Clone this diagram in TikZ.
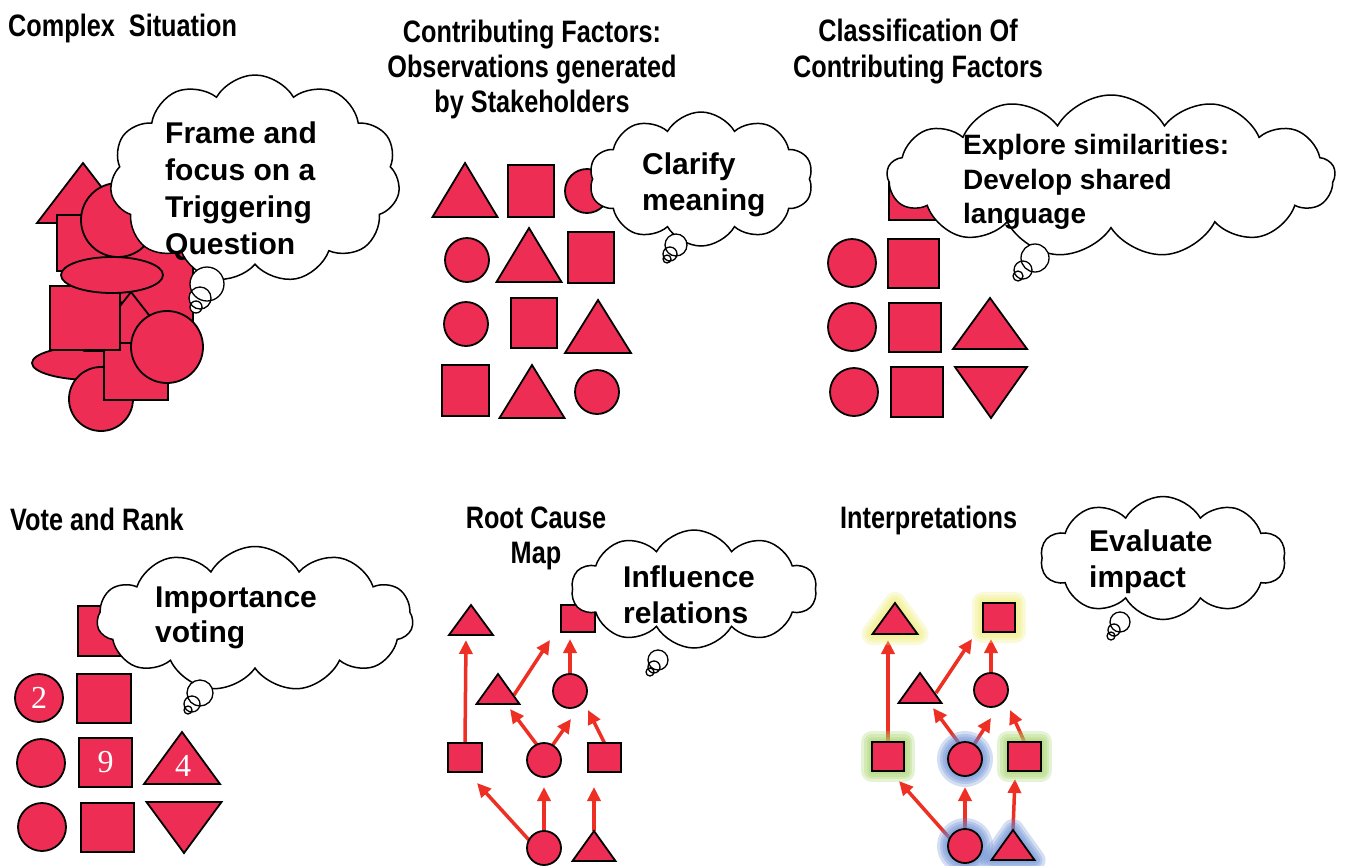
\documentclass[tikz,border=0pt]{standalone}
\usepackage{fontspec}
\setmainfont{Liberation Sans}
\newfontfamily\narrowfont[FakeStretch=0.815]{Liberation Sans}
\newfontfamily\numfont{Liberation Serif}
\usetikzlibrary{shapes.symbols,arrows.meta}
\pgfdeclarelayer{back}
\pgfdeclarelayer{arrows}
\pgfdeclarelayer{glow}
\pgfsetlayers{back,arrows,glow,main}
\definecolor{shp}{RGB}{238,45,85}
\definecolor{arw}{RGB}{238,48,36}
\definecolor{glowY}{RGB}{240,238,120}
\definecolor{glowG}{RGB}{165,212,105}
\definecolor{glowB}{RGB}{100,138,210}
\newcommand\mysq[5]{\node[sqr, minimum width=#4pt-#2pt, minimum height=#5pt-#3pt] (#1) at ({(#2+#4)/2},{(#3+#5)/2}) {};}
\newcommand\mycirc[4]{\node[crc, minimum size=#4pt*2] (#1) at (#2,#3) {};}
\newcommand\mytri[5]{\draw[fig] (#2,#3) -- ({#2+#4},#5) -- ({#2-#4},#5) -- cycle; \coordinate (#1) at (#2,#3);}
\newcommand\thought[9]{\fill[white] (#1,#2) circle (#3) (#4,#5) circle (#6) (#7,#8) circle (#9);
  \draw[bub] (#1,#2) circle (#3) (#4,#5) circle (#6) (#7,#8) circle (#9);}
\newcommand\glowpath[2]{\begin{pgfonlayer}{glow}\foreach \w in {22,16,11,6}{\path[draw=#1, fill=#1, line width=\w pt, line join=round, opacity=0.28] #2;}\end{pgfonlayer}}
\begin{document}
\begin{tikzpicture}[x=1pt,y=-1pt,
  fig/.style={draw=black, fill=shp, line width=1.8pt},
  sqr/.style={fig, rectangle, inner sep=0pt, outer sep=0pt},
  crc/.style={fig, circle, inner sep=0pt, outer sep=0pt},
  ttl/.style={font=\narrowfont\bfseries\fontsize{31}{35}\selectfont, inner sep=0pt},
  ctx/.style={font=\bfseries\fontsize{30}{36}\selectfont, inner sep=0pt, anchor=base west},
  ctxs/.style={font=\bfseries\fontsize{28}{34}\selectfont, inner sep=0pt, anchor=base west},
  cloudbox/.style={cloud, draw=black, fill=white, line width=1.5pt, inner sep=0pt, cloud puff arc=120},
  bub/.style={draw=black, line width=1.3pt},
  arr/.style={draw=arw, line width=3.5pt, -{Triangle[length=14pt,width=13pt]}},
  num/.style={font=\numfont\fontsize{32}{32}\selectfont, text=white, inner sep=0pt}
]
\begin{pgfonlayer}{back}
\fill[white] (0,0) rectangle (1363,865);
\end{pgfonlayer}
\useasboundingbox (0,0) rectangle (1363,865);

% ---------- titles
\node[ttl, anchor=base west] (t1) at (8,36) {Complex\ \ Situation};
\node[ttl, anchor=base] (t2a) at (532,42) {Contributing Factors:};
\node[ttl, anchor=base] (t2b) at (532,77) {Observations generated};
\node[ttl, anchor=base] (t2c) at (532,112) {by Stakeholders};
\node[ttl, anchor=base] (t3a) at (918,41) {Classification Of};
\node[ttl, anchor=base] (t3b) at (918,77) {Contributing Factors};
\node[ttl, anchor=base west] (t4) at (10,530) {Vote and Rank};
\node[ttl, anchor=base] (t5a) at (536,528) {Root Cause};
\node[ttl, anchor=base] (t5b) at (536,563) {Map};
\node[ttl, anchor=base west] (t6) at (840,528) {Interpretations};

% ---------- panel 1: complex situation
\mytri{p1tA}{83}{163}{46}{223}
\draw[fig] (100,272) -- (168,214) -- (193,235) -- (193,322) -- (140,330) -- cycle;
\mysq{p1sA}{57}{215}{112}{271}
\mycirc{p1cA}{118}{220}{37}
\draw[fig] (92,363) ellipse (60 and 17);
\mytri{p1tB}{131}{292}{46}{351}
\mycirc{p1cB}{101}{399}{32}
\mysq{p1sB}{104}{343}{168}{400}
\mysq{p1sC}{50}{286}{120}{350}
\draw[fig] (112,275) ellipse (51 and 18);
\mycirc{p1cC}{167}{347}{36}
\node[cloudbox, cloud puffs=11, aspect=1.4, minimum width=290pt, minimum height=208pt] (cl1) at (255,179) {};
\thought{207}{284}{17}{200}{298}{11}{196}{307}{6}
\node[ctx] (c1a) at (165,143) {Frame and};
\node[ctx] (c1b) at (165,180) {focus on a};
\node[ctx] (c1c) at (165,217) {Triggering};
\node[ctx] (c1d) at (165,254) {Question};

% ---------- panel 2: contributing factors
\mytri{p2t1}{465}{163}{32.5}{217}
\mysq{p2s1}{508}{165}{554}{217}
\mycirc{p2c1}{587}{191}{22}
\mycirc{p2c2}{467}{260}{22}
\mytri{p2t2}{529}{228}{32.5}{282}
\mysq{p2s2}{568}{232}{614}{283}
\mycirc{p2c3}{466}{324}{22}
\mysq{p2s3}{511}{298}{557}{348}
\mytri{p2t3}{598}{300}{33}{353}
\mysq{p2s4}{442}{365}{489}{416}
\mytri{p2t4}{532}{365}{32.5}{418}
\mycirc{p2c4}{597}{392}{22}
\node[cloudbox, cloud puffs=10, aspect=1.68, minimum width=224pt, minimum height=134pt] (cl2) at (701,179) {};
\thought{676}{245}{11}{670}{254}{7}{667}{259}{4}
\node[ctx] (c2a) at (642,174) {Clarify};
\node[ctx] (c2b) at (642,210) {meaning};

% ---------- panel 3: classification
\mysq{p3s1}{889}{170}{937}{220}
\mycirc{p3c2}{852}{263}{24}
\mysq{p3s2}{888}{239}{939}{288}
\mycirc{p3c3}{852}{327}{24}
\mysq{p3s3}{889}{303}{941}{352}
\mytri{p3t3}{990}{298}{37}{349}
\mycirc{p3c4}{854}{392}{24}
\mysq{p3s4}{891}{367}{943}{417}
\mytri{p3t4}{991}{418}{36}{367}
\node[cloudbox, cloud puffs=13, aspect=2.76, minimum width=448pt, minimum height=162pt] (cl3) at (1111,176) {};
\thought{1035}{258}{14}{1023}{270}{9}{1018}{276}{5}
\node[ctxs] (c3a) at (963,154) {Explore similarities:};
\node[ctxs] (c3b) at (963,189) {Develop shared};
\node[ctxs] (c3c) at (963,223) {language};

% ---------- panel 4: vote and rank
\mysq{p4s1}{78}{606}{130}{656}
\mycirc{p4c2}{39}{698}{24}
\mysq{p4s2}{77}{674}{131}{723}
\mycirc{p4c3}{41}{763}{24}
\mysq{p4s3}{79}{738}{132}{787}
\mytri{p4t3}{182}{732}{38}{784}
\mycirc{p4c4}{42}{827}{24}
\mysq{p4s4}{81}{803}{134}{852}
\mytri{p4t4}{184}{853}{37.5}{802}
\node[num] (n2) at (p4c2) {2};
\node[num] (n9) at (p4s3) {9};
\node[num] (n4) at (183,766) {4};
\node[cloudbox, cloud puffs=11, aspect=2.18, minimum width=316pt, minimum height=145pt] (cl4) at (255,619) {};
\thought{200}{693}{13}{192}{704}{8}{188}{710}{4}
\node[ctx] (c4a) at (155,607) {Importance};
\node[ctx] (c4b) at (155,642) {voting};

% ---------- panel 5: root cause map
\mytri{p5tT}{471}{605}{22}{635}
\mysq{p5sT}{561}{605}{595}{632}
\mytri{p5tM}{498}{674}{21.5}{704}
\mycirc{p5cU}{570}{691}{17}
\mysq{p5sL}{448}{743}{482}{772}
\mycirc{p5cM}{544}{760}{17}
\mysq{p5sR}{588}{743}{621}{772}
\mycirc{p5cB}{544}{848}{17}
\mytri{p5tB}{594}{831}{21.5}{861}
\coordinate (p5e1) at (466,640);
\coordinate (p5e2s) at (514,695);
\coordinate (p5e2) at (550,640);
\coordinate (p5e3) at (570,639);
\coordinate (p5e4) at (510,709);
\coordinate (p5e5) at (571,719);
\coordinate (p5e6) at (588,710);
\coordinate (p5e7) at (477,783);
\coordinate (p5e8) at (544,787);
\coordinate (p5e9) at (594,787);
\begin{pgfonlayer}{arrows}
\draw[arr] (p5sL.north) -- (p5e1);
\draw[arr] (p5e2s) -- (p5e2);
\draw[arr] (p5cU.north) -- (p5e3);
\draw[arr] (p5cM.115) -- (p5e4);
\draw[arr] (p5cM.60) -- (p5e5);
\draw[arr] (p5sR.north) -- (p5e6);
\draw[arr] (p5cB.152) -- (p5e7);
\draw[arr] (p5cB.north) -- (p5e8);
\draw[arr] (p5tB) -- (p5e9);
\end{pgfonlayer}
\node[cloudbox, cloud puffs=10, aspect=2.08, minimum width=245pt, minimum height=118pt] (cl5) at (694,589) {};
\thought{658}{660}{10}{654}{667}{6}{650}{672}{4}
\node[ctx] (c5a) at (623,587) {Influence};
\node[ctx] (c5b) at (623,623) {relations};

% ---------- panel 6: interpretations
\glowpath{glowY}{(895,603) -- (917.5,634) -- (872.5,634) -- cycle}
\glowpath{glowY}{(983,603) rectangle (1015,632)}
\glowpath{glowG}{(872,742) rectangle (904,771)}
\glowpath{glowG}{(1008,742) rectangle (1041,771)}
\glowpath{glowB}{(965,759) circle (17)}
\glowpath{glowB}{(965,846) circle (17)}
\glowpath{glowB}{(1013,830) -- (1034.5,860) -- (991.5,860) -- cycle}
\mytri{p6tT}{895}{603}{22.5}{634}
\mysq{p6sT}{983}{603}{1015}{632}
\mytri{p6tM}{920}{673}{21.5}{703}
\mycirc{p6cU}{991}{690}{17}
\mysq{p6sL}{872}{742}{904}{771}
\mycirc{p6cM}{965}{759}{17}
\mysq{p6sR}{1008}{742}{1041}{771}
\mycirc{p6cB}{965}{846}{17}
\mytri{p6tB}{1013}{830}{21.5}{860}
\coordinate (p6e1) at (888,640);
\coordinate (p6e2s) at (936,693);
\coordinate (p6e2) at (972,639);
\coordinate (p6e3) at (991,639);
\coordinate (p6e4) at (933,708);
\coordinate (p6e5) at (991,718);
\coordinate (p6e6) at (1010,710);
\coordinate (p6e7) at (899,781);
\coordinate (p6e8) at (965,787);
\coordinate (p6e9) at (1015,779);
\begin{pgfonlayer}{arrows}
\draw[arr] (p6sL.north) -- (p6e1);
\draw[arr] (p6e2s) -- (p6e2);
\draw[arr] (p6cU.north) -- (p6e3);
\draw[arr] (p6cM.111) -- (p6e4);
\draw[arr] (p6cM.58) -- (p6e5);
\draw[arr] (p6sR.north) -- (p6e6);
\draw[arr] (p6cB.153) -- (p6e7);
\draw[arr] (p6cB.north) -- (p6e8);
\draw[arr] (p6tB) -- (p6e9);
\end{pgfonlayer}
\node[cloudbox, cloud puffs=10, aspect=2.0, minimum width=245pt, minimum height=123pt] (cl6) at (1163,558) {};
\thought{1120}{622}{10}{1114}{630}{6}{1111}{636}{4}
\node[ctx] (c6a) at (1089,551) {Evaluate};
\node[ctx] (c6b) at (1089,587) {impact};
\end{tikzpicture}
\end{document}
